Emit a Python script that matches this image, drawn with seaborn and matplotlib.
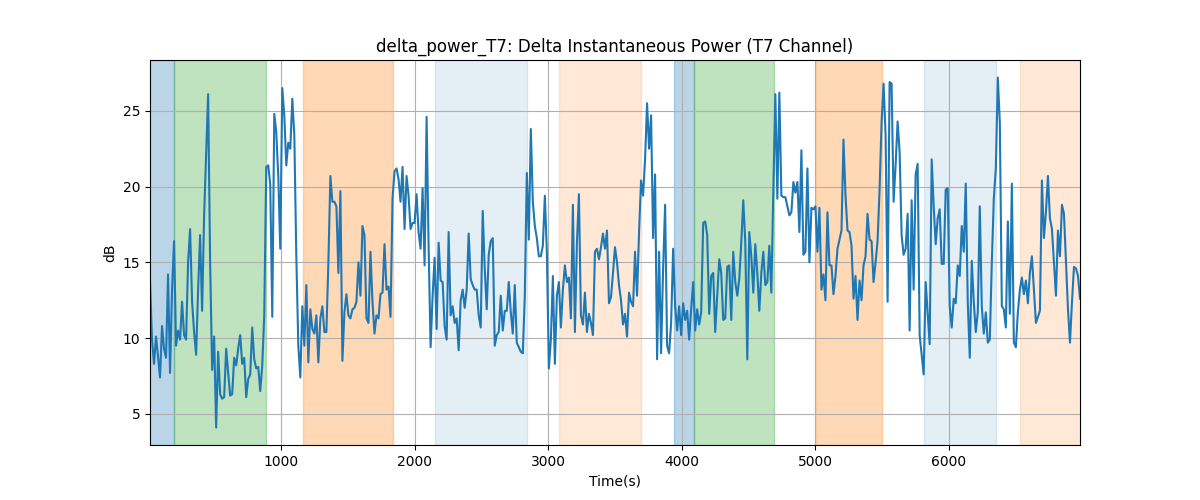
import numpy as np
import pandas as pd
import matplotlib
matplotlib.use("Agg")
import matplotlib.pyplot as plt
import seaborn as sns

# ==========================================
# DATA
# ==========================================
t_start = 20      # first sample time (s)
t_step = 15       # sampling step (s)

delta_db = [
    # 0 - 1200 s
    13.8, 9.9, 8.3, 10.1, 8.8, 7.4, 10.8, 9.3, 8.7, 14.2, 7.7, 13.2, 16.4, 9.5, 10.5, 9.9,
    12.4, 10.2, 9.9, 15.0, 17.2, 12.4, 10.4, 8.9, 13.2, 16.8, 11.8, 18.1, 22.0, 26.1, 15.0,
    7.9, 10.1, 4.1, 9.1, 6.3, 6.0, 6.1, 9.3, 7.7, 6.2, 6.3, 8.7, 8.2, 9.3, 10.2, 8.3, 8.7,
    6.1, 7.3, 7.6, 10.7, 8.6, 8.0, 8.1, 6.5, 8.2, 11.5, 21.3, 21.4, 20.1, 11.4, 24.8, 23.6,
    20.7, 15.9, 26.5, 24.7, 21.4, 22.9, 22.5, 25.8, 23.4, 15.4, 9.5, 7.4, 12.1, 9.5, 13.5, 8.4,
    # 1200 - 2370 s
    11.9, 10.6, 10.3, 11.5, 8.4, 11.3, 12.1, 10.4, 10.4, 15.0, 20.7, 19.0, 19.0, 18.7, 14.3,
    19.7, 8.5, 11.7, 12.9, 11.5, 11.3, 11.9, 12.0, 12.4, 15.0, 12.8, 17.4, 16.8, 11.3, 11.0,
    15.7, 12.4, 10.3, 11.5, 11.3, 12.9, 13.0, 16.2, 13.2, 13.4, 11.4, 19.2, 21.0, 21.2, 20.5,
    19.0, 21.3, 17.2, 20.7, 19.4, 17.2, 17.6, 17.6, 19.5, 17.0, 15.9, 19.9, 14.8, 24.6, 16.1,
    9.4, 12.8, 15.3, 10.6, 16.3, 13.8, 13.7, 10.8, 9.9, 17.0, 11.5, 12.1, 11.0, 11.3, 9.2,
    12.5, 13.2, 12.0,
    # 2370 - 3540 s
    13.2, 16.9, 13.9, 13.5, 13.2, 13.2, 11.5, 10.7, 18.4, 14.6, 11.9, 15.5, 16.4, 16.6, 9.5,
    10.2, 10.4, 12.8, 10.5, 11.8, 11.8, 13.7, 11.7, 10.3, 13.5, 9.7, 9.4, 9.1, 9.0, 12.8,
    20.9, 16.5, 23.8, 19.0, 17.4, 16.6, 15.4, 15.4, 16.1, 19.4, 15.7, 8.0, 9.9, 14.1, 8.3,
    12.8, 13.7, 10.7, 13.2, 14.8, 13.7, 14.0, 11.3, 18.8, 10.4, 16.3, 19.5, 11.5, 10.9, 13.0,
    10.4, 11.6, 11.0, 10.2, 15.7, 15.9, 15.2, 16.0, 16.9, 15.9, 17.1, 12.3, 12.7, 14.3, 16.0,
    15.0, 13.5, 12.5,
    # 3540 - 4710 s
    10.9, 11.6, 10.1, 13.0, 12.4, 12.1, 15.7, 12.8, 17.0, 20.4, 19.4, 21.8, 25.5, 22.5, 24.7,
    16.6, 20.8, 8.6, 15.7, 9.0, 14.6, 18.8, 9.5, 9.0, 11.0, 15.9, 12.1, 10.5, 12.1, 10.2,
    12.3, 11.2, 11.8, 9.9, 11.9, 13.7, 10.5, 11.9, 10.9, 11.7, 17.6, 17.7, 16.8, 11.6, 14.1,
    14.3, 10.4, 12.8, 15.2, 14.3, 11.2, 11.3, 14.7, 14.8, 11.2, 15.7, 13.7, 12.8, 13.9, 16.3,
    19.1, 16.3, 8.6, 17.0, 15.4, 13.0, 16.2, 14.3, 11.8, 14.3, 15.7, 13.5, 13.7, 16.1, 13.0,
    19.8, 26.1, 19.2,
    # 4710 - 5890 s
    26.2, 19.4, 19.3, 19.3, 18.7, 18.1, 18.3, 20.3, 19.6, 20.3, 17.0, 22.4, 15.5, 15.7, 21.2,
    15.0, 18.6, 18.5, 18.7, 15.7, 18.6, 13.2, 14.2, 12.5, 18.3, 14.8, 14.8, 12.9, 14.1, 15.9,
    16.5, 17.1, 23.1, 19.4, 17.1, 17.0, 16.1, 12.6, 14.1, 11.2, 13.8, 12.5, 14.8, 15.4, 18.2,
    16.5, 16.4, 13.7, 15.0, 16.4, 19.8, 24.2, 26.8, 23.4, 12.4, 26.9, 26.8, 19.0, 21.4, 24.3,
    22.3, 16.8, 15.5, 15.9, 18.2, 10.5, 19.1, 13.2, 20.8, 21.5, 10.2, 8.9, 7.6, 13.7, 11.7,
    9.6, 21.8, 18.7, 16.2,
    # 5890 - 6980 s
    17.9, 18.5, 14.9, 14.9, 19.8, 19.9, 12.1, 10.7, 12.6, 12.3, 14.8, 14.1, 17.4, 15.7, 20.2,
    12.4, 8.7, 15.1, 12.4, 10.4, 11.7, 18.7, 12.1, 10.3, 11.7, 9.7, 9.9, 15.0, 19.2, 21.2,
    27.2, 24.2, 12.1, 11.9, 10.7, 17.7, 11.6, 20.2, 9.7, 9.4, 11.7, 13.2, 14.0, 12.9, 13.8,
    12.3, 14.3, 15.4, 13.2, 11.0, 11.4, 11.8, 20.4, 16.6, 18.3, 20.7, 17.9, 17.2, 15.0, 12.8,
    17.1, 15.4, 18.8, 18.2, 15.0, 11.9, 9.7, 12.4, 14.7, 14.6, 14.1, 12.6,
]

# shaded segments: start, end (s) and segment kind
seg_start = [0, 203, 1165, 2154, 3082, 3939, 4089, 5003, 5812, 6532]
seg_end = [203, 885, 1837, 2844, 3696, 4089, 4693, 5498, 6352, 6990]
seg_kind = ["A", "B", "C", "D", "E", "A", "B", "C", "D", "E"]

# ==========================================
# PLOT
# ==========================================
kind_style = {
    "A": ("tab:blue", 0.3),
    "B": ("tab:green", 0.3),
    "C": ("tab:orange", 0.3),
    "D": ("tab:blue", 0.12),
    "E": ("tab:orange", 0.17),
}

time = t_start + t_step * np.arange(len(delta_db))
df = pd.DataFrame({"Time(s)": time, "dB": delta_db})

fig, ax = plt.subplots(figsize=(12, 5), dpi=100)

for s, e, k in zip(seg_start, seg_end, seg_kind):
    color, alpha = kind_style[k]
    ax.axvspan(s, e, color=color, alpha=alpha)

sns.lineplot(data=df, x="Time(s)", y="dB", ax=ax, color="tab:blue", linewidth=1.5)

ax.set_xlim(df["Time(s)"].min(), df["Time(s)"].max())
ax.set_title("delta_power_T7: Delta Instantaneous Power (T7 Channel)")
ax.set_xlabel("Time(s)")
ax.set_ylabel("dB")
ax.grid(True)

fig.savefig("out.png")
